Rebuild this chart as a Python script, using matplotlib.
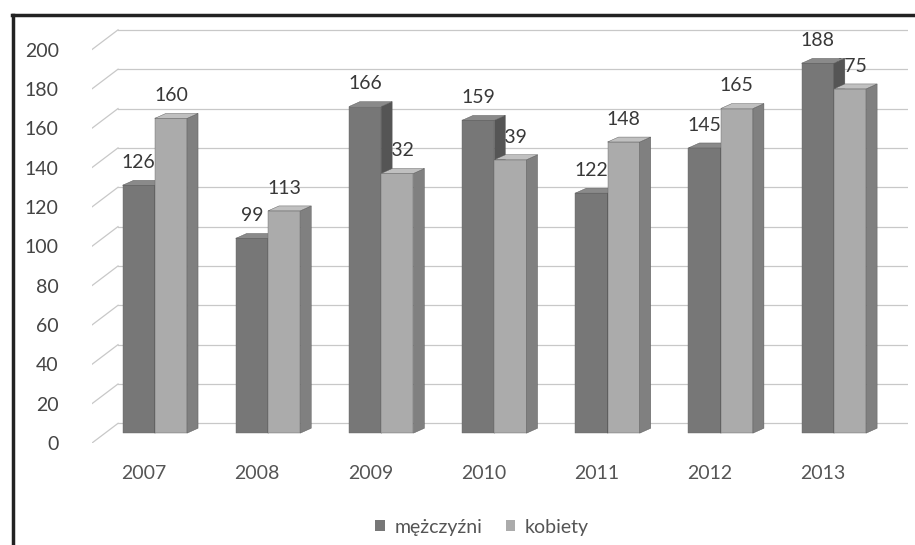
import matplotlib.pyplot as plt
from matplotlib.patches import Polygon, Patch
from matplotlib.lines import Line2D

# dane
years = ['2007', '2008', '2009', '2010', '2011', '2012', '2013']
mezczyzni = [126, 99, 166, 159, 122, 145, 188]
kobiety = [160, 113, 132, 139, 148, 165, 175]
yticks = [0, 20, 40, 60, 80, 100, 120, 140, 160, 180, 200]

plt.rcParams['font.family'] = ['Lato', 'DejaVu Sans']

fig = plt.figure(figsize=(9.15, 5.45), dpi=100)
W, H = 915, 545
x0, x1 = 92, 908          # pixele osi
yb, yt = 443, 20
ax = fig.add_axes([x0 / W, 1 - yb / H, (x1 - x0) / W, (yb - yt) / H])
xl, xr = -0.46, 6.75
ax.set_xlim(xl, xr)
ax.set_ylim(0, 215)

# efekt 3D
base = 5          # podstawa slupkow
wall_dx, wall_dy = 0.23, 10
dx, dy = 0.097, 2.5
bw = 0.285

# siatka na tylnej scianie + ukosne linie z lewej
for v in yticks:
    ax.plot([xl + wall_dx, xr], [v + wall_dy, v + wall_dy], color='#c8c8c8', lw=0.9, zorder=1)
    ax.plot([xl, xl + wall_dx], [v, v + wall_dy], color='#c8c8c8', lw=0.9, zorder=1)


def bar3d(left, val, front, side, top, z):
    b, t = base, base + val
    ax.add_patch(Polygon([(left, b), (left + bw, b), (left + bw, t), (left, t)],
                         closed=True, fc=front, ec='#666666', lw=0.3, zorder=z))
    ax.add_patch(Polygon([(left + bw, b), (left + bw + dx, b + dy), (left + bw + dx, t + dy), (left + bw, t)],
                         closed=True, fc=side, ec='#555555', lw=0.3, zorder=z))
    ax.add_patch(Polygon([(left, t), (left + dx, t + dy), (left + bw + dx, t + dy), (left + bw, t)],
                         closed=True, fc=top, ec='#555555', lw=0.3, zorder=z))


for i in range(len(years)):
    ml = i - 0.19
    fl = i + 0.095
    bar3d(ml, mezczyzni[i], '#777777', '#555555', '#8a8a8a', 3 + i * 0.1)
    bar3d(fl, kobiety[i], '#ababab', '#808080', '#c0c0c0', 3.05 + i * 0.1)
    ax.text(ml + bw / 2, base + mezczyzni[i] + 11.5, str(mezczyzni[i]), ha='center', va='center',
            fontsize=14, color='#383838', zorder=2)
    ax.text(fl + bw / 2, base + kobiety[i] + 11.5, str(kobiety[i]), ha='center', va='center',
            fontsize=14, color='#383838', zorder=2)

ax.set_xticks(range(len(years)))
ax.set_xticklabels(years)
ax.set_yticks(yticks)
ax.tick_params(axis='x', length=0, pad=16, labelsize=14, labelcolor='#555555')
ax.tick_params(axis='y', length=0, pad=24, labelsize=14, labelcolor='#444444')
for s in ax.spines.values():
    s.set_visible(False)

# legenda
handles = [Patch(fc='#777777', ec='none'), Patch(fc='#ababab', ec='none')]
fig.legend(handles, ['mężczyźni', 'kobiety'], loc='center', bbox_to_anchor=(482 / W, 1 - 527 / H),
           ncol=2, frameon=False, fontsize=14, handlelength=0.5, handleheight=0.5,
           handletextpad=0.5, columnspacing=1.2, labelcolor='#555555')

# ramka
fig.add_artist(Line2D([12 / W, 1], [1 - 15 / H, 1 - 15 / H], transform=fig.transFigure, color='#222222', lw=2.5))
fig.add_artist(Line2D([13 / W, 13 / W], [0, 1 - 15 / H], transform=fig.transFigure, color='#222222', lw=2.5))

plt.savefig('out.png', dpi=100)
